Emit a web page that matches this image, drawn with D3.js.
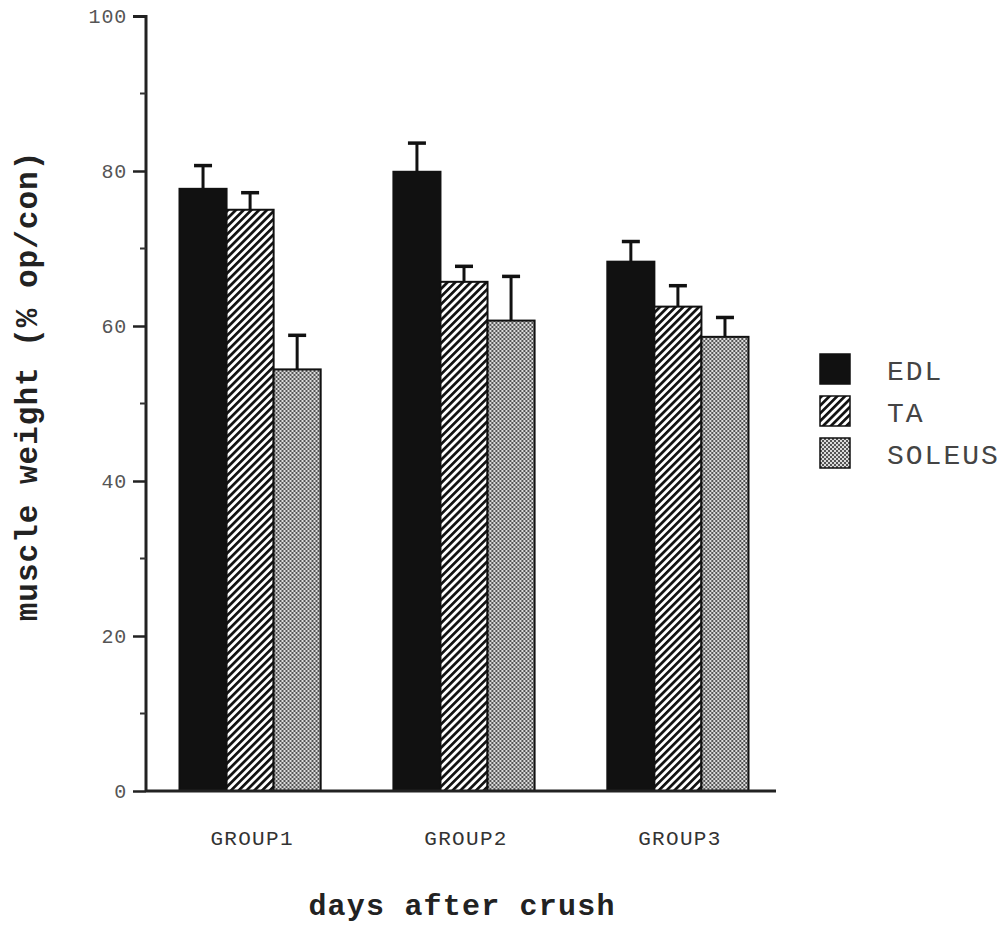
<!DOCTYPE html>
<html>
<head>
<meta charset="utf-8">
<script src="https://cdn.jsdelivr.net/npm/d3@7"></script>
<style>
  body { margin: 0; background: #fff; }
</style>
</head>
<body>
<script>
// values
const groups = ["GROUP1", "GROUP2", "GROUP3"];
const muscles = ["EDL", "TA", "SOLEUS"];
const edl = [77.7, 79.9, 68.3];
const ta = [75.0, 65.7, 62.5];
const soleus = [54.4, 60.7, 58.6];
const edlErr = [3.0, 3.7, 2.6];
const taErr = [2.2, 2.0, 2.7];
const soleusErr = [4.4, 5.7, 2.5];
const yTicks = [0, 20, 40, 60, 80, 100];
const yMinor = [10, 30, 50, 70, 90];

const width = 1007, height = 926;
const series = [edl, ta, soleus];
const errs = [edlErr, taErr, soleusErr];
const fills = ["#111", "url(#hatch)", "url(#dots)"];
const mono = "'Liberation Mono', 'DejaVu Sans Mono', monospace";

const svg = d3.select("body").append("svg")
    .attr("width", width)
    .attr("height", height);

const defs = svg.append("defs");
const hatch = defs.append("pattern")
    .attr("id", "hatch")
    .attr("patternUnits", "userSpaceOnUse")
    .attr("width", 5.5).attr("height", 5.5)
    .attr("patternTransform", "rotate(45)");
hatch.append("rect").attr("width", 5.5).attr("height", 5.5).attr("fill", "#fff");
hatch.append("rect").attr("width", 2.7).attr("height", 5.5).attr("fill", "#111");

const dots = defs.append("pattern")
    .attr("id", "dots")
    .attr("patternUnits", "userSpaceOnUse")
    .attr("width", 4).attr("height", 4);
dots.append("rect").attr("width", 4).attr("height", 4).attr("fill", "#dcdcdc");
dots.append("rect").attr("width", 2).attr("height", 2).attr("fill", "#555");
dots.append("rect").attr("x", 2).attr("y", 2).attr("width", 2).attr("height", 2).attr("fill", "#555");

const y = d3.scaleLinear().domain([0, 100]).range([791, 16]);
const x0 = d3.scaleBand().domain(groups).range([141, 787]).paddingInner(0.34).paddingOuter(0.18);
const x1 = d3.scaleBand().domain(muscles).range([0, x0.bandwidth()]);

// y axis
svg.append("g")
    .attr("transform", "translate(146,0)")
    .call(d3.axisLeft(y).tickValues(yTicks).tickSize(13).tickPadding(6))
    .call(g => g.select(".domain").attr("d", "M-13,16.5H0V791").attr("stroke", "#222").attr("stroke-width", 3))
    .call(g => g.selectAll(".tick line").attr("stroke", "#222").attr("stroke-width", 2.5))
    .call(g => g.selectAll(".tick text")
        .attr("font-family", mono)
        .attr("font-size", 20)
        .attr("letter-spacing", 0.8)
        .attr("fill", "#555"));

svg.append("g")
    .selectAll("line")
    .data(yMinor)
    .join("line")
    .attr("x1", 140).attr("x2", 146)
    .attr("y1", d => y(d)).attr("y2", d => y(d))
    .attr("stroke", "#333").attr("stroke-width", 2);

// bars
const gGroup = svg.append("g")
    .selectAll("g")
    .data(groups)
    .join("g")
    .attr("transform", d => `translate(${x0(d)},0)`);

gGroup.selectAll("rect")
    .data((g, gi) => muscles.map((m, mi) => ({ m, mi, v: series[mi][gi], e: errs[mi][gi] })))
    .join("rect")
    .attr("x", d => x1(d.m))
    .attr("y", d => y(d.v))
    .attr("width", x1.bandwidth())
    .attr("height", d => y(0) - y(d.v))
    .attr("fill", d => fills[d.mi])
    .attr("stroke", "#111")
    .attr("stroke-width", 2);

// error bars
const eb = gGroup.selectAll("g.err")
    .data((g, gi) => muscles.map((m, mi) => ({ m, v: series[mi][gi], e: errs[mi][gi] })))
    .join("g")
    .attr("class", "err")
    .attr("stroke", "#111")
    .attr("stroke-width", 3);

eb.append("line")
    .attr("x1", d => x1(d.m) + x1.bandwidth() / 2)
    .attr("x2", d => x1(d.m) + x1.bandwidth() / 2)
    .attr("y1", d => y(d.v))
    .attr("y2", d => y(d.v + d.e));
eb.append("line")
    .attr("x1", d => x1(d.m) + x1.bandwidth() / 2 - 9)
    .attr("x2", d => x1(d.m) + x1.bandwidth() / 2 + 9)
    .attr("y1", d => y(d.v + d.e))
    .attr("y2", d => y(d.v + d.e))
    .attr("stroke-width", 3.5);

// x axis
svg.append("line")
    .attr("x1", 146).attr("x2", 776)
    .attr("y1", y(0)).attr("y2", y(0))
    .attr("stroke", "#222").attr("stroke-width", 3);

svg.append("g")
    .selectAll("text")
    .data(groups)
    .join("text")
    .attr("x", d => x0(d) + x0.bandwidth() / 2 + 2)
    .attr("y", 845)
    .attr("text-anchor", "middle")
    .attr("font-family", mono)
    .attr("font-size", 21)
    .attr("letter-spacing", 1.3)
    .attr("fill", "#333")
    .text(d => d);

// axis titles
svg.append("text")
    .attr("transform", "translate(37,386) rotate(-90)")
    .attr("text-anchor", "middle")
    .attr("font-family", mono)
    .attr("font-weight", "bold")
    .attr("font-size", 31)
    .attr("letter-spacing", 1)
    .attr("fill", "#222")
    .text("muscle weight (% op/con)");

svg.append("text")
    .attr("x", 462).attr("y", 915)
    .attr("text-anchor", "middle")
    .attr("font-family", mono)
    .attr("font-weight", "bold")
    .attr("font-size", 30)
    .attr("letter-spacing", 1.2)
    .attr("fill", "#222")
    .text("days after crush");

// legend
const leg = svg.append("g")
    .selectAll("g")
    .data(muscles)
    .join("g")
    .attr("transform", (d, i) => `translate(820,${354 + i * 42})`);
leg.append("rect")
    .attr("width", 30).attr("height", 30)
    .attr("fill", (d, i) => fills[i])
    .attr("stroke", "#111").attr("stroke-width", 1.5);
leg.append("text")
    .attr("x", 67).attr("y", 26)
    .attr("font-family", mono)
    .attr("font-size", 28)
    .attr("letter-spacing", 2)
    .attr("fill", "#444")
    .text(d => d);
</script>
</body>
</html>
